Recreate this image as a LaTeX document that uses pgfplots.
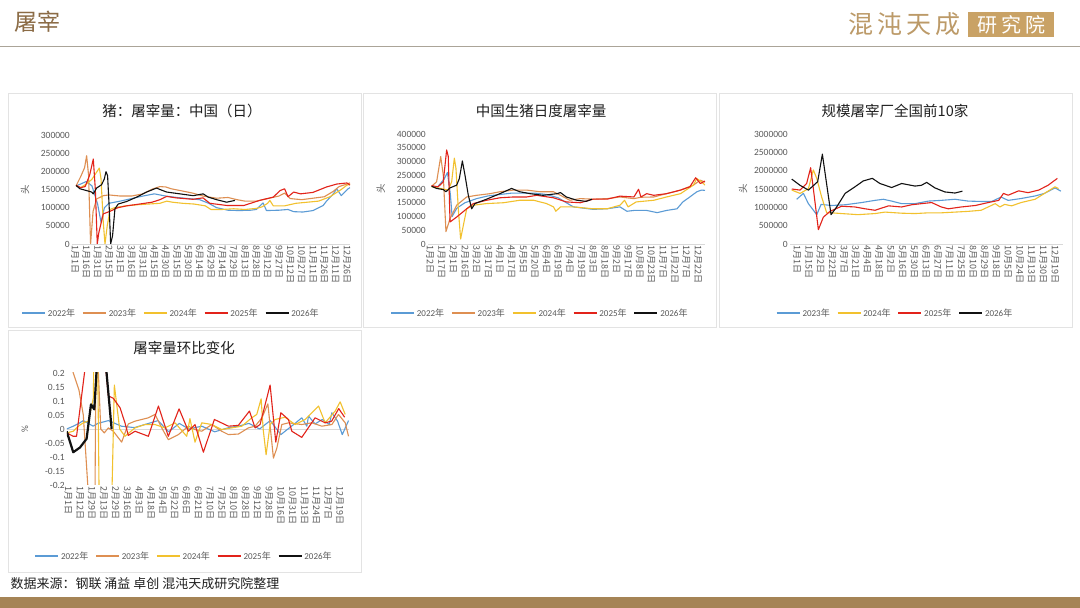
\documentclass[border=0pt]{standalone}
\usepackage{pgfplots}
\pgfplotsset{compat=1.18}
\usepackage{fontspec}
\setmainfont{Carlito}
\newfontfamily\cjk{Noto Sans CJK SC}
\definecolor{c22}{HTML}{5B9BD5}
\definecolor{c23}{HTML}{DE8F52}
\definecolor{c24}{HTML}{F2C12E}
\definecolor{c25}{HTML}{E2231A}
\definecolor{c26}{HTML}{111111}
\definecolor{labelgray}{HTML}{595959}
\definecolor{axisgray}{HTML}{D9D9D9}
\definecolor{panelgray}{HTML}{E3E3E3}
\definecolor{brownA}{HTML}{8B6B45}
\definecolor{logotan}{HTML}{BC9A68}
\definecolor{logobox}{HTML}{C9A265}
\definecolor{barbrown}{HTML}{A58456}
\definecolor{hline}{HTML}{ABA498}
\definecolor{titlec}{HTML}{1F1F1F}

\pgfplotsset{
 panel/.style={
  scale only axis, anchor=south west,
  axis lines=left,
  axis line style={-},
  y axis line style={draw=none},
  x axis line style={draw=axisgray, line width=0.7pt},
  major tick length=0pt,
  scaled y ticks=false, scaled x ticks=false,
  xticklabel style={font=\cjk\fontsize{9}{9}\selectfont, rotate=-90, anchor=west, text=labelgray, inner sep=1.5pt},
  yticklabel style={font=\fontsize{9.5}{10}\selectfont, text=labelgray, inner sep=2pt},
  ylabel style={font=\cjk\fontsize{9.5}{10}\selectfont, text=labelgray, anchor=center},
  legend style={draw=none, fill=none, inner sep=0pt, font=\fontsize{9}{10}\selectfont, text=labelgray, anchor=center, /tikz/every even column/.append style={column sep=5pt}},
  legend columns=-1,
  legend image code/.code={\draw[##1, line width=1.6pt] (0pt,0pt) -- (23pt,0pt);},
  every axis plot/.append style={line width=1.1pt, mark=none, line join=round},
 }
}

\begin{document}
\begin{tikzpicture}[x=1pt,y=1pt]
\path[use as bounding box, fill=white] (0,0) rectangle (1080,608);
% header
\node[anchor=west, text=brownA, font=\cjk\fontsize{23}{23}\selectfont] at (11,586) {屠宰};
\node[anchor=west, text=logotan, font=\cjk\fontsize{25}{25}\selectfont] at (845,584) {混\hspace{4pt}沌\hspace{4pt}天\hspace{4pt}成};
\node[fill=logobox, text=white, font=\cjk\fontsize{20}{20}\selectfont, minimum width=86pt, minimum height=25pt, inner sep=0pt] at (1011,583.5) {研\hspace{4pt}究\hspace{4pt}院};
\draw[hline, line width=1.8pt] (0,561.5) -- (1080,561.5);
% panel frames
\draw[panelgray, line width=0.8pt] (8,515) rectangle (361,281);
\draw[panelgray, line width=0.8pt] (363,515) rectangle (716,281);
\draw[panelgray, line width=0.8pt] (719,515) rectangle (1072,281);
\draw[panelgray, line width=0.8pt] (8,278) rectangle (361,36);
% titles
\node[font=\cjk\fontsize{14.5}{15}\selectfont, text=titlec] at (182,497) {猪：屠宰量：中国（日）};
\node[font=\cjk\fontsize{14.5}{15}\selectfont, text=titlec] at (541,497) {中国生猪日度屠宰量};
\node[font=\cjk\fontsize{14.5}{15}\selectfont, text=titlec] at (895,497) {规模屠宰厂全国前10家};
\node[font=\cjk\fontsize{14.5}{15}\selectfont, text=titlec] at (184,260) {屠宰量环比变化};
% footer
\node[anchor=west, font=\cjk\fontsize{13}{13}\selectfont, text=titlec] at (7,24) {数据来源：钢联 涌益 卓创 混沌天成研究院整理};
\fill[barbrown] (0,0) rectangle (1080,11);

% ---------------- Panel 1 ----------------
\begin{axis}[panel, at={(72pt,364pt)}, width=278pt, height=109pt,
  xmin=-0.26, xmax=24.27, ymin=0, ymax=300000,
  xtick={0,...,24},
  xticklabels={1月1日,1月16日,1月31日,2月15日,3月1日,3月16日,3月31日,4月15日,4月30日,5月15日,5月30日,6月14日,6月29日,7月14日,7月29日,8月13日,8月28日,9月12日,9月27日,10月12日,10月27日,11月11日,11月26日,12月11日,12月26日},
  ytick={0,50000,100000,150000,200000,250000,300000},
  yticklabels={0,50000,100000,150000,200000,250000,300000},
  ylabel={头}, ylabel style={at={(axis description cs:-0.169,0.5)}},
  legend style={at={(0.356,-0.633)}}]
\addplot[c22] coordinates {(0.1,160000)(0.5,165000)(1.0,172000)(1.5,160000)(2.0,110000)(2.3,60000)(2.6,100000)(3.0,112000)(4.0,118000)(5.0,125000)(6.0,132000)(7.0,138000)(8.0,132000)(9.0,128000)(10.0,125000)(11.0,122000)(11.8,112000)(12.5,100000)(13.5,93000)(14.5,92000)(15.5,93000)(16.0,95000)(16.6,113000)(16.9,92000)(18.0,93000)(18.8,95000)(19.3,89000)(20.1,88000)(21.0,92000)(21.9,106000)(22.2,118000)(22.8,138000)(23.1,152000)(23.5,133000)(24.1,152000)(24.27,155000)};
\addplot[c23] coordinates {(0.1,160000)(0.5,185000)(0.85,210000)(1.03,243000)(1.2,190000)(1.38,0)(1.6,90000)(1.91,124000)(2.5,133000)(3.0,135000)(4.0,132000)(5.0,132000)(6.0,138000)(6.9,152000)(7.5,158000)(8.0,157000)(8.5,152000)(9.3,147000)(10.4,140000)(11.3,132000)(12.5,126000)(13.5,128000)(14.3,122000)(15.0,118000)(16.0,118000)(17.0,125000)(18.0,132000)(18.5,140000)(19.0,125000)(20.0,122000)(21.0,126000)(22.0,130000)(22.8,145000)(23.3,158000)(24.0,165000)(24.27,168000)};
\addplot[c24] coordinates {(0.1,160000)(0.5,155000)(1.0,165000)(1.5,178000)(2.15,209000)(2.3,180000)(2.5,60000)(2.65,0)(2.85,50000)(3.1,95000)(3.5,100000)(4.5,105000)(5.5,108000)(6.5,110000)(7.5,112000)(8.1,118000)(8.6,115000)(9.5,112000)(10.5,110000)(11.5,105000)(12.0,95000)(13.0,95000)(14.0,97000)(15.0,95000)(16.0,98000)(16.5,102000)(17.0,112000)(17.2,120000)(17.5,105000)(18.5,105000)(19.5,112000)(20.5,115000)(21.5,118000)(22.5,130000)(23.0,140000)(23.5,150000)(24.0,162000)(24.27,165000)};
\addplot[c25] coordinates {(0.1,162000)(0.5,155000)(0.9,158000)(1.3,190000)(1.62,234000)(1.8,150000)(1.97,0)(2.1,30000)(2.5,83000)(3.1,90000)(3.8,100000)(4.56,105000)(5.7,110000)(6.8,115000)(7.5,122000)(8.1,131000)(8.9,127000)(10.4,123000)(11.3,127000)(11.9,112000)(13.4,106000)(14.9,106000)(16.3,120000)(17.5,129000)(18.1,147000)(18.5,152000)(18.8,130000)(19.3,143000)(19.9,138000)(21.0,142000)(22.2,157000)(23.1,165000)(24.0,168000)(24.27,162000)};
\addplot[c26] coordinates {(0.1,161000)(0.44,152000)(1.03,147000)(1.47,143000)(1.62,138000)(1.91,154000)(2.35,163000)(2.59,179000)(2.74,199000)(2.88,188000)(3.03,97000)(3.15,0)(3.32,23000)(3.53,97000)(3.82,110000)(4.56,117000)(5.44,129000)(6.32,143000)(7.21,154000)(7.5,150000)(8.09,143000)(9.26,138000)(10.44,133000)(11.32,138000)(11.76,129000)(12.5,122000)(13.38,115000)(14.12,120000)};
\legend{2022{\cjk 年},2023{\cjk 年},2024{\cjk 年},2025{\cjk 年},2026{\cjk 年}}
\end{axis}

% ---------------- Panel 2 ----------------
\begin{axis}[panel, at={(428pt,364pt)}, width=277pt, height=110pt,
  xmin=-0.17, xmax=23.6, ymin=0, ymax=400000,
  xtick={0,...,23},
  xticklabels={1月2日,1月17日,2月1日,2月16日,3月2日,3月17日,4月1日,4月17日,5月5日,5月20日,6月4日,6月19日,7月4日,7月19日,8月3日,8月18日,9月2日,9月17日,10月8日,10月23日,11月7日,11月22日,12月7日,12月22日},
  ytick={0,50000,100000,150000,200000,250000,300000,350000,400000},
  yticklabels={0,50000,100000,150000,200000,250000,300000,350000,400000},
  ylabel={头}, ylabel style={at={(axis description cs:-0.17,0.5)}},
  legend style={at={(0.404,-0.627)}}]
\addplot[c22] coordinates {(0.14,210000)(0.6,205000)(1.2,235000)(1.5,260000)(1.75,180000)(1.9,100000)(2.3,130000)(3.0,150000)(4.0,165000)(5.0,175000)(6.0,180000)(7.0,185000)(8.0,185000)(9.0,185000)(10.0,180000)(11.0,168000)(11.7,150000)(12.3,135000)(14.0,126000)(15.2,128000)(16.3,135000)(16.9,119000)(17.5,122000)(18.6,122000)(19.5,114000)(20.3,122000)(21.2,128000)(21.7,153000)(22.3,171000)(22.9,190000)(23.3,196000)(23.6,195000)};
\addplot[c23] coordinates {(0.14,210000)(0.57,226000)(0.92,318000)(1.14,251000)(1.37,45000)(1.72,92000)(2.29,141000)(3.15,171000)(4.0,177000)(5.15,183000)(6.0,190000)(7.15,196000)(8.3,196000)(9.44,190000)(10.6,190000)(11.2,177000)(12.0,159000)(12.9,165000)(14.0,163000)(15.2,165000)(16.3,171000)(17.5,165000)(18.1,170000)(19.2,171000)(20.3,183000)(21.5,196000)(22.6,214000)(23.2,232000)(23.6,225000)};
\addplot[c24] coordinates {(0.14,208000)(0.86,202000)(1.57,196000)(1.86,226000)(2.09,312000)(2.23,275000)(2.43,128000)(2.63,18000)(2.86,67000)(3.15,128000)(3.72,141000)(4.86,147000)(6.3,150000)(7.7,159000)(8.9,159000)(10.0,147000)(10.6,135000)(10.8,119000)(11.2,135000)(12.3,135000)(14.0,128000)(15.2,128000)(16.3,141000)(16.7,159000)(17.0,135000)(17.7,153000)(19.2,159000)(20.3,171000)(21.5,183000)(22.6,214000)(22.9,238000)(23.3,226000)(23.6,214000)};
\addplot[c25] coordinates {(0.14,212000)(0.7,208000)(1.14,226000)(1.43,342000)(1.57,318000)(1.72,80000)(2.29,98000)(3.15,128000)(3.72,147000)(4.86,159000)(6.0,168000)(7.15,171000)(8.3,171000)(9.16,177000)(10.6,168000)(11.7,153000)(12.9,150000)(14.0,163000)(15.2,163000)(16.3,174000)(17.5,171000)(17.9,199000)(18.1,171000)(18.6,183000)(19.2,177000)(20.3,183000)(21.5,196000)(22.3,208000)(22.8,241000)(23.2,220000)(23.6,229000)};
\addplot[c26] coordinates {(0.14,210000)(0.57,202000)(1.14,198000)(1.37,190000)(1.72,204000)(2.29,214000)(2.52,238000)(2.78,302000)(3.0,251000)(3.29,177000)(3.58,128000)(3.86,147000)(4.86,163000)(6.0,183000)(7.0,202000)(7.7,190000)(8.6,183000)(9.7,177000)(10.9,183000)(11.2,187000)(11.7,171000)(12.6,159000)(13.4,155000)(13.9,163000)};
\legend{2022{\cjk 年},2023{\cjk 年},2024{\cjk 年},2025{\cjk 年},2026{\cjk 年}}
\end{axis}

% ---------------- Panel 3 ----------------
\begin{axis}[panel, at={(790pt,364pt)}, width=273pt, height=110pt,
  xmin=-0.6, xmax=22.68, ymin=0, ymax=3000000,
  xtick={0,...,22},
  xticklabels={1月1日,1月15日,2月2日,2月22日,3月7日,3月21日,4月4日,4月18日,5月2日,5月16日,5月30日,6月13日,6月27日,7月11日,7月25日,8月10日,8月29日,9月18日,10月5日,10月24日,11月13日,11月30日,12月19日},
  ytick={0,500000,1000000,1500000,2000000,2500000,3000000},
  yticklabels={0,500000,1000000,1500000,2000000,2500000,3000000},
  ylabel={头}, ylabel style={at={(axis description cs:-0.172,0.5)}},
  legend style={at={(0.385,-0.627)}}]
\addplot[c22] coordinates {(-0.03,1220000)(0.54,1380000)(0.97,1100000)(1.68,800000)(2.05,1080000)(2.95,1050000)(4.1,1070000)(5.5,1130000)(6.65,1190000)(7.36,1220000)(8.07,1170000)(8.92,1100000)(10.06,1100000)(11.2,1170000)(12.3,1190000)(13.47,1220000)(14.6,1170000)(15.7,1160000)(16.6,1160000)(17.4,1280000)(18.0,1190000)(19.1,1240000)(20.3,1310000)(21.1,1380000)(22.0,1530000)(22.5,1440000)};
\addplot[c24] coordinates {(-0.45,1470000)(0.26,1380000)(0.97,1510000)(1.39,2020000)(1.68,1790000)(2.1,1280000)(2.53,850000)(2.95,850000)(3.8,830000)(5.2,800000)(6.65,830000)(7.5,870000)(8.92,840000)(10.06,830000)(11.2,850000)(12.3,850000)(13.47,870000)(14.6,890000)(15.7,920000)(16.3,1010000)(16.9,1100000)(17.3,1010000)(17.7,1080000)(18.3,1040000)(19.1,1130000)(20.3,1220000)(21.1,1380000)(22.0,1560000)(22.3,1510000)};
\addplot[c25] coordinates {(-0.45,1500000)(0.26,1470000)(0.82,1650000)(1.16,2080000)(1.39,1510000)(1.82,390000)(2.24,730000)(2.81,890000)(3.8,1030000)(4.94,1010000)(5.8,960000)(6.65,920000)(7.8,1040000)(8.92,1010000)(9.77,1070000)(10.6,1100000)(11.48,1130000)(12.3,1010000)(12.9,960000)(14.0,1010000)(15.2,1050000)(16.3,1130000)(17.2,1190000)(17.6,1380000)(18.0,1330000)(18.9,1450000)(19.7,1400000)(20.6,1470000)(21.4,1600000)(22.2,1790000)};
\addplot[c26] coordinates {(-0.45,1770000)(0.26,1600000)(0.97,1470000)(1.76,1700000)(2.16,2450000)(2.9,800000)(3.38,1010000)(4.1,1380000)(4.94,1560000)(5.65,1720000)(6.42,1790000)(7.07,1650000)(8.07,1540000)(8.92,1650000)(10.06,1580000)(10.6,1600000)(11.05,1680000)(11.76,1530000)(12.6,1420000)(13.47,1390000)(14.1,1440000)};
\legend{2023{\cjk 年},2024{\cjk 年},2025{\cjk 年},2026{\cjk 年}}
\end{axis}

% ---------------- Panel 4 ----------------
\begin{axis}[panel, at={(67pt,123pt)}, width=282pt, height=112pt,
  xmin=-0.11, xmax=23.77, ymin=-0.2, ymax=0.2,
  x axis line style={draw=none},
  xtick={0,...,23},
  xticklabels={1月1日,1月12日,1月29日,2月13日,2月29日,3月16日,4月3日,4月18日,5月4日,5月22日,6月6日,6月21日,7月10日,7月25日,8月10日,8月28日,9月12日,9月28日,10月16日,10月31日,11月13日,11月24日,12月7日,12月19日},
  ytick={-0.2,-0.15,-0.1,-0.05,0,0.05,0.1,0.15,0.2},
  yticklabels={-0.2,-0.15,-0.1,-0.05,0,0.05,0.1,0.15,0.2},
  extra y ticks={0}, extra y tick labels={},
  extra y tick style={grid=major, major grid style={draw=axisgray, line width=0.7pt}},
  ylabel={\%}, ylabel style={font=\fontsize{9.5}{10}\selectfont, at={(axis description cs:-0.149,0.5)}},
  legend style={at={(0.415,-0.634)}}]
\addplot[c22] coordinates {(-0.14,0.0)(0.42,0.01)(0.9,0.02)(1.27,0.03)(1.7,0.02)(2.1,0.01)(2.5,0.02)(3.4,0.03)(4.5,0.01)(5.6,0.005)(6.8,0.02)(7.6,0.03)(8.5,-0.01)(9.4,0.02)(10.2,0.0)(11.3,0.01)(12.4,-0.01)(13.6,0.005)(14.4,0.01)(15.3,0.02)(16.2,0.0)(17.1,0.03)(18.0,-0.02)(18.6,0.0)(19.2,0.02)(19.77,0.04)(20.2,0.01)(20.34,0.046)(20.9,0.018)(21.5,0.034)(22.1,0.016)(22.32,0.058)(22.8,0.028)(23.2,-0.02)(23.73,0.03)};
\addplot[c23] coordinates {(-0.14,0.3)(0.42,0.2)(0.9,0.14)(1.27,0.05)(1.8,-0.3)(2.25,-0.3)(2.35,0.3)(2.45,0.3)(2.75,0.0)(3.05,-0.014)(3.39,0.004)(3.81,-0.008)(4.52,-0.047)(5.08,0.018)(5.65,0.028)(6.78,0.04)(7.34,0.052)(7.91,0.004)(8.47,-0.038)(9.32,-0.02)(10.17,0.01)(10.73,-0.002)(11.3,-0.008)(12.15,0.016)(12.99,-0.008)(13.56,-0.02)(14.41,-0.018)(15.25,0.004)(15.82,0.01)(16.4,0.04)(16.9,0.09)(17.37,-0.104)(17.66,-0.068)(18.08,0.016)(18.64,0.022)(19.77,0.016)(20.62,0.022)(21.47,0.01)(22.32,0.016)(22.88,0.052)(23.45,0.022)(23.73,-0.026)};
\addplot[c24] coordinates {(-0.14,-0.014)(0.42,-0.008)(0.85,0.01)(1.27,0.022)(1.69,0.028)(2.12,0.11)(2.35,0.8)(2.75,-0.8)(3.5,-0.6)(3.9,0.157)(4.35,0.0)(4.8,-0.026)(5.65,0.004)(6.5,0.016)(7.34,0.016)(8.19,0.004)(9.04,0.022)(10.03,-0.026)(10.3,0.037)(10.73,-0.047)(11.3,0.022)(12.15,0.016)(12.99,-0.002)(13.84,0.004)(14.69,0.01)(15.54,0.04)(15.96,0.052)(16.33,0.108)(16.5,0.0)(16.75,-0.092)(17.09,0.016)(17.51,0.034)(18.36,0.042)(19.2,0.016)(20.06,0.034)(21.19,0.082)(21.75,0.022)(22.6,0.064)(23.02,0.097)(23.45,0.052)};
\addplot[c25] coordinates {(-0.14,-0.014)(0.42,-0.026)(0.7,-0.026)(1.4,0.21)(1.6,0.5)(2.9,0.5)(3.1,0.25)(3.39,0.118)(3.8,0.11)(4.38,0.076)(4.8,0.022)(5.08,-0.023)(5.65,-0.008)(6.78,-0.026)(7.63,0.082)(8.47,-0.026)(9.38,0.072)(10.17,-0.008)(10.73,0.016)(11.44,-0.083)(12.37,0.034)(13.56,0.01)(14.4,0.013)(15.34,0.064)(15.82,0.004)(16.24,0.016)(17.09,0.157)(17.57,-0.047)(18.0,0.058)(18.64,0.034)(18.93,-0.008)(19.77,-0.03)(20.9,0.04)(21.75,0.022)(22.3,0.028)(22.9,0.073)(23.4,0.042)};
\addplot[c26, line width=2.2pt] coordinates {(-0.14,-0.008)(0.42,-0.083)(0.99,-0.066)(1.55,-0.035)(1.92,0.088)(2.2,0.07)(2.4,0.21)(2.6,0.5)(3.0,0.5)(3.22,0.21)(3.67,0.0)};
\legend{2022{\cjk 年},2023{\cjk 年},2024{\cjk 年},2025{\cjk 年},2026{\cjk 年}}
\end{axis}
\end{tikzpicture}
\end{document}
